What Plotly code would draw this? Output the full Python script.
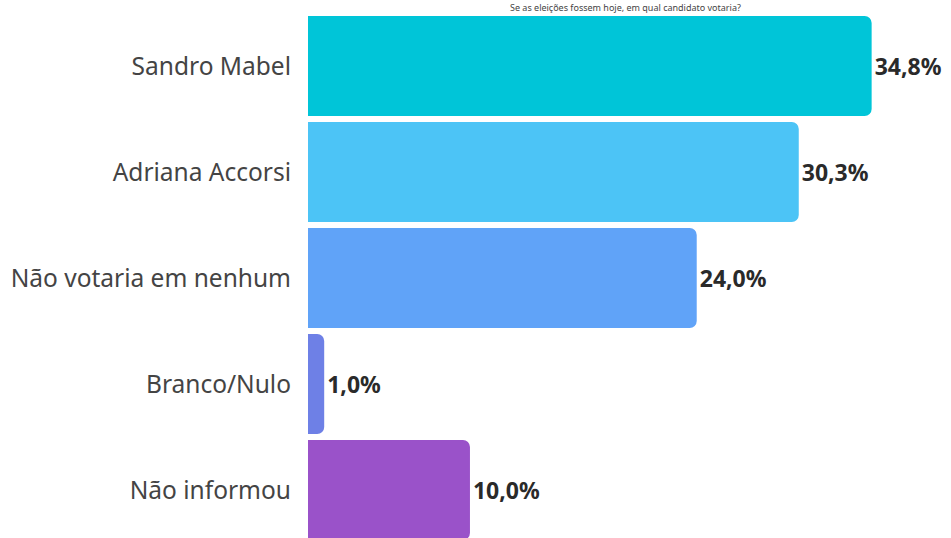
import plotly.graph_objects as go

categories = ["Sandro Mabel", "Adriana Accorsi", "Não votaria em nenhum", "Branco/Nulo", "Não informou"]
values = [34.8, 30.3, 24.0, 1.0, 10.0]
labels = ["34,8%", "30,3%", "24,0%", "1,0%", "10,0%"]
colors = ["#00C5D8", "#4CC4F6", "#60A3F8", "#6E80E6", "#9A52C9"]
title_text = "Se as eleições fossem hoje, em qual candidato votaria?"

fig = go.Figure(go.Bar(
    x=values, y=categories, orientation="h",
    marker=dict(color=colors, line=dict(width=0)),
    text=labels, textposition="outside", cliponaxis=False,
    textfont=dict(family="Noto Sans", size=23, color="#2a2a2a", weight="bold"),
    width=0.943,
))
fig.update_layout(
    width=951, height=538,
    margin=dict(l=308, r=0, t=13, b=0),
    paper_bgcolor="white", plot_bgcolor="white",
    barcornerradius=7,
    showlegend=False,
    xaxis=dict(range=[0, 39.7], visible=False),
    yaxis=dict(range=[4.453, -0.5], showgrid=False, zeroline=False, showline=False,
               ticks="", ticklabelstandoff=16,
               tickfont=dict(family="Noto Sans", size=24.5, color="#444444")),
    annotations=[dict(text=title_text, xref="paper", yref="paper", x=0.494, y=1,
                      xanchor="center", yanchor="bottom", yshift=-2, showarrow=False,
                      borderpad=0,
                      font=dict(family="Noto Sans", size=9, color="#444444"))],
)
fig.write_html("out.html", config={"displayModeBar": False},
               post_script="document.body.style.margin='0';document.body.style.overflow='hidden';")
